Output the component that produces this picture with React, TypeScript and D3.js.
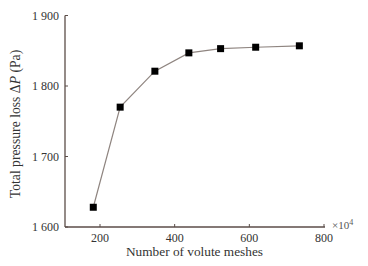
import React from "react";
import * as d3 from "d3";

const meshes = [182, 254, 347, 438, 523, 617, 734];
const pressure = [1628, 1770, 1821, 1847, 1853, 1855, 1857];
const xTicks = [200, 400, 600, 800];
const yTicks = [1600, 1700, 1800, 1900];

export default function App() {
  const W = 368, H = 266;
  const x = d3.scaleLinear().domain([200, 800]).range([100, 324]);
  const y = d3.scaleLinear().domain([1600, 1900]).range([227, 15.5]);
  const x0 = 65;
  const line = d3.line<number>().x((_, i) => x(meshes[i])).y((d) => y(d));
  const axisColor = "#5b4d48";
  const font = "Liberation Serif, Times New Roman, serif";
  const fmt = (v: number) => {
    const s = String(v);
    return s.length > 3 ? s.slice(0, s.length - 3) + " " + s.slice(-3) : s;
  };
  return (
    <svg width={W} height={H} style={{ position: "absolute", left: 0, top: 0, background: "#fff" }} fontFamily={font}>
      <line x1={x0} x2={x0} y1={y(1900)} y2={y(1600)} stroke={axisColor} strokeWidth={1.3} />
      <line x1={x0} x2={x(800) + 1} y1={y(1600)} y2={y(1600)} stroke={axisColor} strokeWidth={1.3} />
      {yTicks.map((t) => (
        <g key={t}>
          <line x1={x0} x2={x0 + 3} y1={y(t)} y2={y(t)} stroke={axisColor} strokeWidth={1} />
          <text x={x0 - 6} y={y(t)} dy="0.35em" textAnchor="end" fontSize={12} fill="#333">{fmt(t)}</text>
        </g>
      ))}
      {xTicks.map((t) => (
        <g key={t}>
          <line x1={x(t)} x2={x(t)} y1={y(1600)} y2={y(1600) - 3} stroke={axisColor} strokeWidth={1} />
          <text x={x(t)} y={y(1600) + 14.5} textAnchor="middle" fontSize={12} fill="#333">{t}</text>
        </g>
      ))}
      <text x={x(800) + 8} y={y(1600) + 2} fontSize={11} fill="#555">×10<tspan dy="-4" fontSize={8}>4</tspan></text>
      <text x={194.5} y={255.5} textAnchor="middle" fontSize={13.3} fill="#333">Number of volute meshes</text>
      <text transform={`translate(20,${124}) rotate(-90)`} textAnchor="middle" fontSize={13.7} fill="#333">
        Total pressure loss Δ<tspan fontStyle="italic">P</tspan> (Pa)
      </text>
      <path d={line(pressure) || ""} fill="none" stroke="#8f8580" strokeWidth={1.2} />
      {pressure.map((p, i) => (
        <rect key={i} x={x(meshes[i]) - 3.5} y={y(p) - 3.5} width={7} height={7} fill="#000" />
      ))}
    </svg>
  );
}
